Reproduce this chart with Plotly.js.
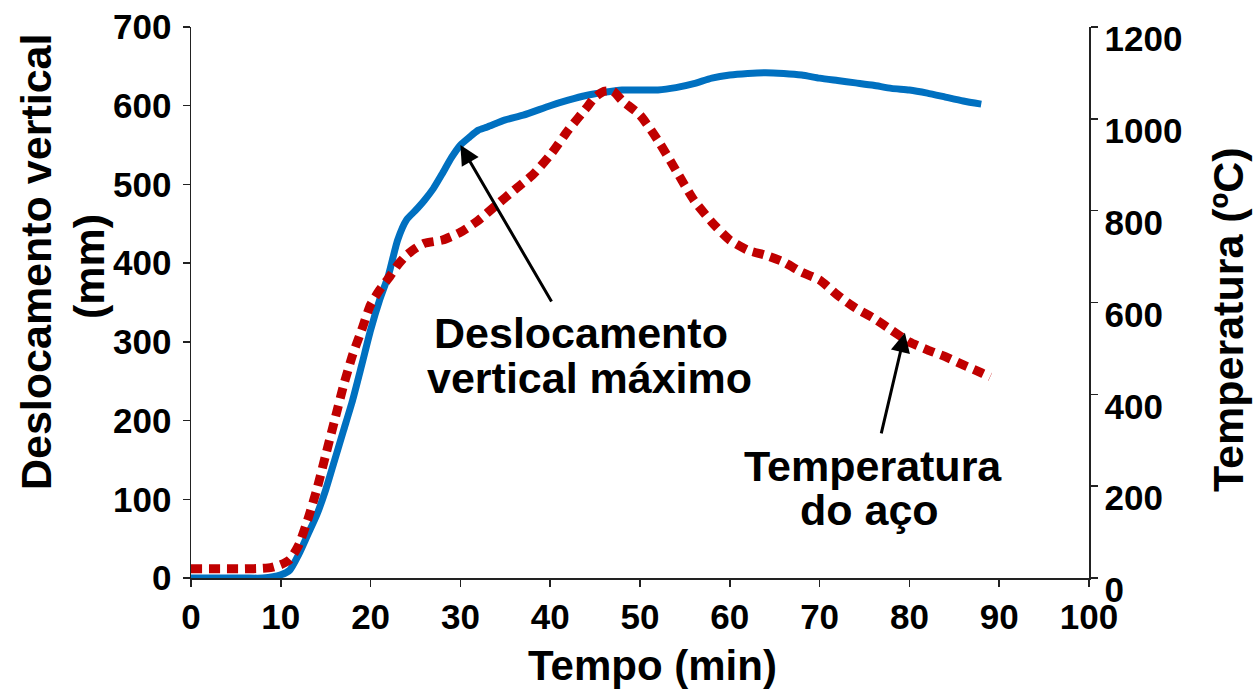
<!DOCTYPE html>
<html>
<head>
<meta charset="utf-8">
<script src="https://cdn.plot.ly/plotly-3.0.1.min.js"></script>
<style>html,body{margin:0;padding:0;background:#fff;}</style>
</head>
<body>
<div id="chart" style="width:1257px;height:693px;"></div>
<script>
// Deslocamento vertical (mm) vs tempo (min)
const tempoDesloc = [0, 2, 4, 6, 8, 10, 11, 12, 13, 14, 15, 16, 17, 18, 19, 20, 21, 22, 23, 24, 25, 26, 27, 28, 29, 30, 31, 32, 33, 35, 37, 40, 42, 44, 46, 48, 50, 52, 54, 56, 58, 60, 62, 64, 66, 68, 70, 72, 74, 76, 78, 80, 82, 84, 86, 88];
const deslocamento = [0, 0, 0, 0, 0, 4, 10, 30, 55, 80, 112, 150, 188, 226, 270, 315, 353, 385, 429, 455, 467, 480, 495, 514, 534, 550, 560, 569, 573, 582, 588, 600, 607, 613, 617, 620, 620, 620, 623, 628, 635, 639, 641, 642, 641, 639, 635, 632, 629, 626, 622, 620, 616, 611, 606, 602];

// Temperatura do aço (ºC) vs tempo (min)
const tempoTemp = [0, 2, 4, 6, 8, 9, 10, 11, 12, 13, 14, 15, 16, 17, 18, 19, 20, 21, 22, 23, 24, 25, 26, 28, 30, 32, 34, 36, 38, 40, 42, 44, 45, 46, 47, 48, 50, 52, 54, 56, 58, 60, 62, 64, 66, 68, 70, 72, 74, 76, 78, 80, 82, 84, 86, 88, 89];
const temperatura = [20, 20, 20, 20, 21, 23, 29, 40, 72, 127, 192, 268, 344, 420, 486, 540, 595, 627, 653, 681, 703, 718, 729, 736, 753, 779, 812, 845, 877, 921, 975, 1023, 1047, 1060, 1060, 1040, 1008, 953, 888, 823, 775, 736, 714, 703, 688, 666, 649, 616, 588, 566, 540, 514, 497, 482, 464, 447, 438];

const xTicks = [0, 10, 20, 30, 40, 50, 60, 70, 80, 90, 100];
const yLeftTicks = [0, 100, 200, 300, 400, 500, 600, 700];
const yRightTicks = [0, 200, 400, 600, 800, 1000, 1200];

const FONT = 'Liberation Sans, Arial, sans-serif';
const tickFont = {family: FONT, size: 35, color: '#000', weight: 'bold'};
const bigFont = {family: FONT, size: 43, color: '#000', weight: 'bold'};

const traces = [
  {
    x: tempoDesloc, y: deslocamento, type: 'scatter', mode: 'lines',
    name: 'Deslocamento vertical', yaxis: 'y', cliponaxis: false,
    line: {color: '#0070C0', width: 7, shape: 'spline', smoothing: 0.6}
  },
  {
    x: tempoTemp, y: temperatura, type: 'scatter', mode: 'lines',
    name: 'Temperatura do aço', yaxis: 'y2', cliponaxis: false,
    line: {color: '#C00000', width: 9, dash: '11px,7px', shape: 'spline', smoothing: 0.6}
  }
];

// plot area in pixels: x 191..1089, y 26.7..578.3
const L = 191, R = 1089, T = 26.7, B = 578.3;
const px = (x) => (x - L) / (R - L);
const py = (y) => (B - y) / (B - T);

function label(text, x, y, angle, font) {
  return {text: text, xref: 'paper', yref: 'paper', x: px(x), y: py(y),
    xanchor: 'center', yanchor: 'middle', showarrow: false, font: font || bigFont,
    textangle: angle || 0};
}

const axisCommon = {
  showgrid: false, zeroline: false, showline: true, linecolor: '#222', linewidth: 1.5,
  ticks: 'outside', ticklen: 7, tickwidth: 1.5, tickcolor: '#222',
  tickfont: tickFont, layer: 'below traces'
};

const layout = {
  width: 1257, height: 693,
  margin: {l: L, r: 1257 - R, t: T, b: 693 - B, pad: 0},
  paper_bgcolor: '#fff', plot_bgcolor: '#fff',
  showlegend: false,
  xaxis: Object.assign({}, axisCommon, {
    range: [0, 100], tickvals: xTicks, ticktext: xTicks.map(String)
  }),
  yaxis: Object.assign({}, axisCommon, {
    range: [0, 700], tickvals: yLeftTicks, ticktext: yLeftTicks.map(String),
    ticklabelstandoff: 4
  }),
  yaxis2: Object.assign({}, axisCommon, {
    range: [0, 1200], tickvals: yRightTicks, ticktext: yRightTicks.map(String),
    overlaying: 'y', side: 'right', ticklabelshift: 12
  }),
  annotations: [
    label('Tempo (min)', 652, 666, 0, {family: FONT, size: 42, color: '#000', weight: 'bold'}),
    label('Deslocamento vertical', 36, 262, -90),
    label('(mm)', 89, 267, -90),
    label('Temperatura (ºC)', 1228, 320, -90),
    label('Deslocamento', 581, 333),
    label('vertical máximo', 589, 378),
    label('Temperatura', 873, 466),
    label('do aço', 869, 510),
    {x: 30, y: 550, xref: 'x', yref: 'y', text: '', showarrow: true,
     ax: 92, ay: 158, arrowhead: 2, arrowsize: 1.3, arrowwidth: 3, arrowcolor: '#000', standoff: 0},
    {x: 79.5, y: 534, xref: 'x', yref: 'y2', text: '', showarrow: true,
     ax: -24, ay: 102, arrowhead: 2, arrowsize: 1.3, arrowwidth: 3, arrowcolor: '#000', standoff: 0}
  ]
};

Plotly.newPlot('chart', traces, layout, {displayModeBar: false, staticPlot: true});
</script>
</body>
</html>
